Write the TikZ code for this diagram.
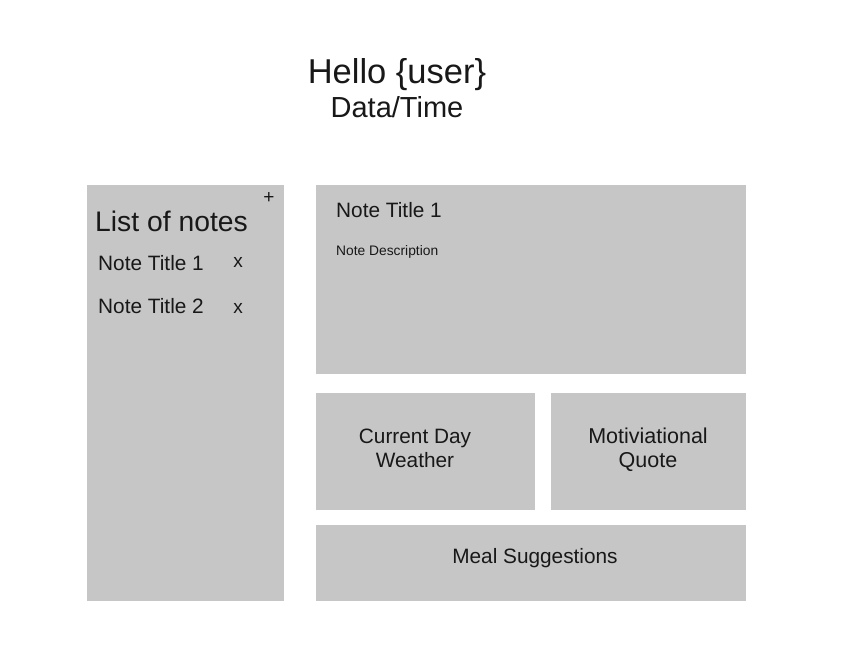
\documentclass[tikz,border=0pt]{standalone}
\usepackage{fontspec}
\setmainfont{Liberation Sans}
\definecolor{panel}{RGB}{198,198,198}
\definecolor{ink}{RGB}{24,24,24}
\tikzset{
  panelbox/.style={fill=panel, draw=none},
  lbl/.style={inner sep=0pt, text=ink, font=\fontsize{20.8}{24}\selectfont},
}
\begin{document}
\begin{tikzpicture}[x=1pt,y=-1pt]
\useasboundingbox[fill=white] (0,0) rectangle (854,662);
% panels
\path[panelbox] (87,185) rectangle (284,601);
\path[panelbox] (316,185) rectangle (746,374);
\path[panelbox] (316,393) rectangle (535,510);
\path[panelbox] (551,393) rectangle (746,510);
\path[panelbox] (316,525) rectangle (746,601);
% header
\node[lbl, anchor=base, font=\fontsize{34.5}{40}\selectfont] (hello) at (397,83) {Hello \{user\}};
\node[lbl, anchor=base, font=\fontsize{29}{34}\selectfont] (date) at (397,117) {Data/Time};
% list of notes
\node[lbl, anchor=base west, font=\fontsize{28.3}{33}\selectfont] (listtitle) at (95,231) {List of notes};
\node[lbl, anchor=base, font=\fontsize{19}{22}\selectfont] (plus) at (269,203) {+};
\node[lbl, anchor=base west] (n1) at (98,270) {Note Title 1};
\node[lbl, anchor=base, font=\fontsize{19}{22}\selectfont] (x1) at (238,267) {x};
\node[lbl, anchor=base west] (n2) at (98,313) {Note Title 2};
\node[lbl, anchor=base, font=\fontsize{19}{22}\selectfont] (x2) at (238,313) {x};
% note detail
\node[lbl, anchor=base west] (nt) at (336,217) {Note Title 1};
\node[lbl, anchor=base west, font=\fontsize{13.8}{16}\selectfont] (nd) at (336,255) {Note Description};
% widgets
\node[lbl, anchor=base] (w1) at (415,443) {Current Day};
\node[lbl, anchor=base] (w2) at (415,467) {Weather};
\node[lbl, anchor=base, font=\fontsize{21.5}{24}\selectfont] (q1) at (648,443) {Motiviational};
\node[lbl, anchor=base, font=\fontsize{21.5}{24}\selectfont] (q2) at (648,467) {Quote};
\node[lbl, anchor=base] (meal) at (535,563) {Meal Suggestions};
\end{tikzpicture}
\end{document}
